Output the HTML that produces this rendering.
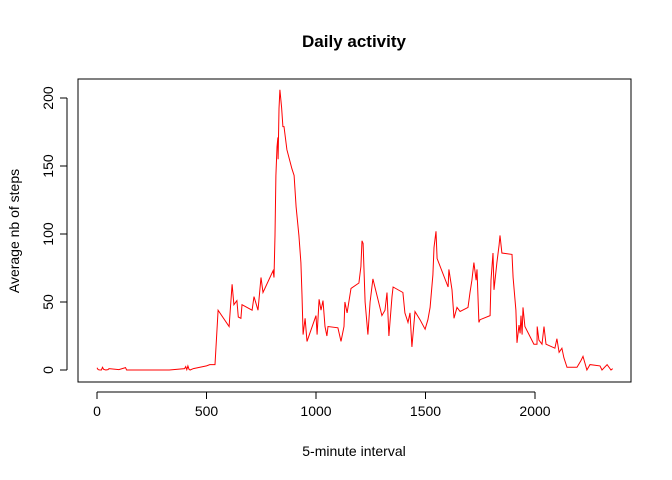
<!DOCTYPE html>
<html><head><meta charset="utf-8"><style>
body{margin:0;background:#fff;}
svg{display:block;font-family:"Liberation Sans",Arial,sans-serif;}
</style></head><body>
<svg id="chart" width="672" height="480">
<rect x="0" y="0" width="672" height="480" fill="#fff"/>
<text x="354" y="47" text-anchor="middle" font-size="17" font-weight="bold">Daily activity</text>
<rect x="78" y="79" width="553" height="303" fill="none" stroke="#000" stroke-width="1"/>
<text x="354" y="456" text-anchor="middle" font-size="14">5-minute interval</text>
<text x="19" y="231" text-anchor="middle" font-size="14" transform="rotate(-90 19 231)">Average nb of steps</text>
<g id="xaxis"></g>
<g id="yaxis"></g>
<polyline id="line" fill="none" stroke="#ff0000" stroke-width="1"/>
</svg>
<script>
const intervals=[0,5,10,20,25,30,40,50,55,100,130,135,200,230,300,330,400,405,410,415,420,425,440,500,515,525,539,553,603,617,625,639,645,657,662,708,717,735,749,758,804,808,813,817,822,826,827,831,835,843,849,854,867,890,900,909,922,931,936,941,950,959,1000,1005,1014,1023,1032,1041,1050,1055,1100,1114,1128,1132,1142,1160,1196,1205,1210,1215,1224,1237,1247,1260,1301,1315,1324,1333,1347,1352,1397,1406,1420,1429,1438,1452,1475,1498,1511,1521,1534,1539,1548,1553,1603,1607,1621,1630,1644,1658,1694,1703,1712,1721,1731,1735,1744,1749,1795,1799,1808,1813,1826,1836,1840,1849,1895,1900,1913,1918,1927,1932,1936,1941,1945,1954,1995,2009,2010,2018,2032,2041,2050,2091,2100,2110,2123,2132,2146,2192,2210,2219,2237,2251,2297,2306,2329,2347,2355];
const steps=[1.7,0.3,0.1,0,2,0.5,0,0.3,1,0.3,1.8,0,0,0,0,0,1,2.5,0.3,3,0.5,0,1,3,4,4,4,44,32,63,48,51,39,38,48,44,54,44,68,57,73,68,99,143,164,171,155,192,206,193,179,179,162,148,143,120,99,79,55,26,38,21,40,26,52,44,51,32,25,32,31,21,32,50,42,60,64,76,95,93,50,26,50,67,40,44,57,25,54,61,57,42,35,42,17,43,37,30,37,46,70,90,102,82,61,74,59,38,46,43,46,57,66,79,66,74,35,37,40,66,86,59,79,92,99,86,85,68,44,20,33,27,40,26,46,32,19,19,32,22,19,32,19,16,23,13,16,9,2,2,7,10,0,4,3,0,4,0,1];
const xTicks=[0,500,1000,1500,2000];
const yTicks=[0,50,100,150,200];
const xs=v=>97+v*(535-97)/2000;
const ys=v=>370-v*(370-98)/200;
const ns="http://www.w3.org/2000/svg";
const line=document.getElementById('line');
line.setAttribute('points',intervals.map((x,i)=>xs(x).toFixed(1)+','+ys(steps[i]).toFixed(1)).join(' '));
const xa=document.getElementById('xaxis');
function mk(tag,attrs,parent){const e=document.createElementNS(ns,tag);for(const k in attrs)e.setAttribute(k,attrs[k]);parent.appendChild(e);return e;}
const xl=mk('line',{x1:xs(0),x2:xs(2000),y1:392,y2:392,stroke:'#000'},xa);


xTicks.forEach(t=>{
 const tk=mk('line',{x1:xs(t),x2:xs(t),y1:392,y2:399,stroke:'#000'},xa);
 
 
 const tx=mk('text',{x:xs(t),y:416,'text-anchor':'middle','font-size':'14'},xa);
 tx.textContent=t;
 
 
});
const ya=document.getElementById('yaxis');
const yl=mk('line',{x1:67,x2:67,y1:ys(0),y2:ys(200),stroke:'#000'},ya);


yTicks.forEach(t=>{
 const tk=mk('line',{x1:60,x2:67,y1:ys(t),y2:ys(t),stroke:'#000'},ya);
 
 
 const tx=mk('text',{x:53,y:ys(t),'text-anchor':'middle','font-size':'14',transform:'rotate(-90 53 '+ys(t)+')'},ya);
 tx.textContent=t;
 
 
});
</script>
</body></html>
